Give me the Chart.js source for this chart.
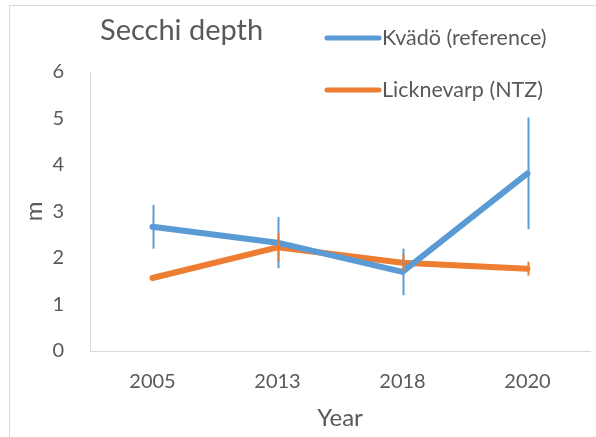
<!DOCTYPE html>
<html>
<head>
<meta charset="utf-8">
<script src="https://cdn.jsdelivr.net/npm/chart.js@4"></script>
<style>
  html, body { margin: 0; padding: 0; background: #fff; }
  #wrap { width: 596px; height: 437px; position: relative; }
</style>
</head>
<body>
<div id="wrap"><canvas id="secchi" width="596" height="437"></canvas></div>
<script>
const years = ['2005', '2013', '2018', '2020'];
const kvadoDepth = [2.67, 2.33, 1.70, 3.82];
const kvadoErr = [0.47, 0.55, 0.50, 1.20];
const lickDepth = [1.57, 2.23, 1.90, 1.77];
const lickErr = [0.03, 0.30, 0.18, 0.15];

const BLUE = '#5B9BD5';
const ORANGE = '#ED7D31';
const TEXT = '#595959';
const FONT = 'Lato, "Open Sans", sans-serif';

// vertical error bars, drawn in series order so later series sit on top
const errorBarPlugin = {
    id: 'errorBars',
    afterDatasetsDraw(chart) {
        const ctx = chart.ctx;
        const x = chart.scales.x;
        const y = chart.scales.y;
        ctx.save();
        ctx.lineWidth = 2;
        chart.data.datasets.forEach((ds) => {
            const errs = ds.errors || [];
            ctx.strokeStyle = ds.borderColor;
            ds.data.forEach((v, i) => {
                const e = errs[i];
                if (!e) return;
                const px = Math.round(x.getPixelForValue(i)) + 0.5;
                ctx.beginPath();
                ctx.moveTo(px, y.getPixelForValue(v + e));
                ctx.lineTo(px, y.getPixelForValue(v - e));
                ctx.stroke();
            });
        });
        ctx.restore();
    }
};

// frame, title and legend drawn outside the chart area
const decorPlugin = {
    id: 'decor',
    beforeDraw(chart) {
        const ctx = chart.ctx;
        ctx.save();
        ctx.fillStyle = '#fff';
        ctx.fillRect(0, 0, chart.width, chart.height);
        ctx.strokeStyle = '#d9d9d9';
        ctx.lineWidth = 1;
        ctx.strokeRect(9.5, 5.5, 700, 600);
        ctx.restore();
    },
    afterDraw(chart) {
        const ctx = chart.ctx;
        ctx.save();
        ctx.fillStyle = TEXT;
        ctx.textBaseline = 'middle';
        ctx.font = '29px ' + FONT;
        ctx.fillText('Secchi depth', 100, 31);

        const items = chart.data.datasets.map((ds, i) => ({ label: ds.label, color: ds.borderColor, y: 38 + i * 52 }));
        ctx.font = '21.5px ' + FONT;
        ctx.lineCap = 'round';
        ctx.lineWidth = 5;
        items.forEach(it => {
            ctx.strokeStyle = it.color;
            ctx.beginPath();
            ctx.moveTo(327, it.y);
            ctx.lineTo(379, it.y);
            ctx.stroke();
            ctx.fillText(it.label, 382, it.y);
        });
        ctx.restore();
    }
};

new Chart(document.getElementById('secchi').getContext('2d'), {
    type: 'line',
    data: {
        labels: years,
        datasets: [
            { label: 'Kvädö (reference)', data: kvadoDepth, errors: kvadoErr, borderColor: BLUE, backgroundColor: BLUE },
            { label: 'Licknevarp (NTZ)', data: lickDepth, errors: lickErr, borderColor: ORANGE, backgroundColor: ORANGE }
        ]
    },
    options: {
        responsive: false,
        animation: false,
        devicePixelRatio: 1,
        layout: { padding: { top: 72, right: 6, left: 0, bottom: 0 } },
        elements: {
            line: { borderWidth: 6, tension: 0, borderCapStyle: 'round', borderJoinStyle: 'round' },
            point: { radius: 0, hoverRadius: 0 }
        },
        plugins: {
            legend: { display: false },
            title: { display: false },
            tooltip: { enabled: false }
        },
        scales: {
            x: {
                offset: true,
                grid: { display: false, drawTicks: false },
                border: { display: true, color: '#d9d9d9', width: 1 },
                ticks: { color: TEXT, font: { family: FONT, size: 20 }, padding: 19 },
                title: { display: true, text: 'Year', color: TEXT, font: { family: FONT, size: 24 }, padding: { top: 4 } },
                afterFit(scale) { scale.height = 86; }
            },
            y: {
                min: 0,
                max: 6,
                ticks: { stepSize: 1, color: TEXT, font: { family: FONT, size: 20 }, padding: 26 },
                grid: { display: false, drawTicks: false },
                border: { display: true, color: '#d9d9d9', width: 1 },
                title: { display: true, text: 'm', color: TEXT, font: { family: FONT, size: 24 }, padding: { top: 20, bottom: 0 } },
                afterFit(scale) { scale.width = 90; }
            }
        }
    },
    plugins: [decorPlugin, errorBarPlugin]
});
</script>
</body>
</html>
